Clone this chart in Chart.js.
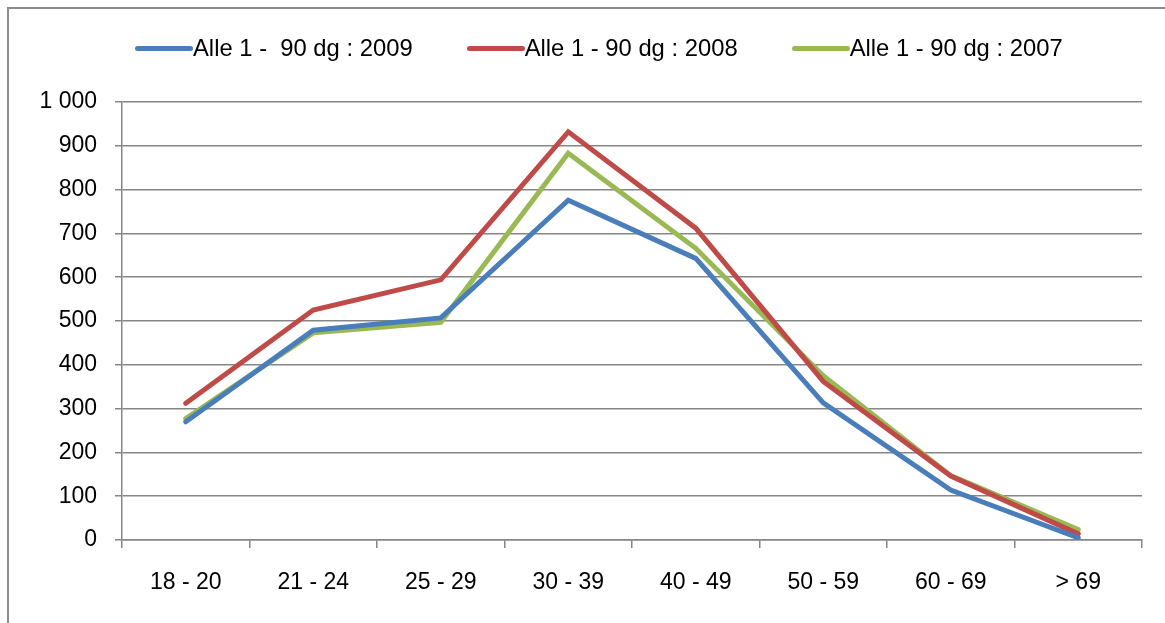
<!DOCTYPE html>
<html>
<head>
<meta charset="utf-8">
<script src="https://cdn.jsdelivr.net/npm/chart.js@4"></script>
<style>
  html, body { margin: 0; padding: 0; background: #fff; overflow: hidden; }
  .frame {
    position: absolute; left: 7px; top: 7px; width: 1200px; height: 700px;
    border-left: 2px solid #8c8c8c; border-top: 2px solid #8c8c8c;
  }
  .wrap { position: absolute; left: 0; top: 0; width: 1165px; height: 623px; }
  #legend {
    position: absolute; left: 135px; top: 33px; height: 30px;
    display: flex; align-items: center; gap: 54px;
    font-family: 'Liberation Sans', Arial, sans-serif; font-size: 23.8px; color: #000;
  }
  #legend .item { display: flex; align-items: center; white-space: pre; }
  #legend .swatch { width: 58px; height: 5px; border-radius: 3px; }
</style>
</head>
<body>
<div class="frame"></div>
<div class="wrap"><canvas id="myChart" width="1165" height="623"></canvas></div>
<div id="legend"></div>
<script>
const categories = ["18 - 20", "21 - 24", "25 - 29", "30 - 39", "40 - 49", "50 - 59", "60 - 69", "> 69"];
const values2009 = [270, 479, 507, 776, 643, 313, 114, 5];
const values2008 = [312, 525, 594, 932, 712, 362, 146, 14];
const values2007 = [277, 473, 497, 883, 666, 375, 147, 24];
const seriesNames = ["Alle 1 -  90 dg : 2009", "Alle 1 - 90 dg : 2008", "Alle 1 - 90 dg : 2007"];
const seriesColors = ["#4a7ebb", "#be4b48", "#98b954"];

const gridColor = "#868686";
const labelFont = { family: "'Liberation Sans', Arial, sans-serif", size: 23 };

const makeDataset = function (i, values) {
  return {
    label: seriesNames[i],
    data: values,
    borderColor: seriesColors[i],
    backgroundColor: seriesColors[i],
    borderWidth: 5,
    borderCapStyle: "round",
    borderJoinStyle: "miter",
    pointRadius: 0,
    tension: 0
  };
};

const data = {
  labels: categories,
  datasets: [
    makeDataset(0, values2009),
    makeDataset(1, values2008),
    makeDataset(2, values2007)
  ]
};

const config = {
  type: "line",
  data: data,
  options: {
    responsive: false,
    animation: false,
    layout: { padding: { left: 0, right: 23, top: 102, bottom: 0 } },
    plugins: {
      tooltip: { enabled: false },
      legend: { display: false }
    },
    scales: {
      x: {
        offset: true,
        grid: {
          offset: true,
          drawOnChartArea: false,
          tickLength: 8,
          color: gridColor,
          lineWidth: 1.5
        },
        border: { color: gridColor, width: 1.5 },
        ticks: { color: "#000", font: labelFont, padding: 21, maxRotation: 0 },
        afterFit: function (scale) { scale.height = 83; }
      },
      y: {
        min: 0,
        max: 1000,
        grid: { color: gridColor, lineWidth: 1.5, tickLength: 7 },
        border: { color: gridColor, width: 1.5 },
        ticks: {
          stepSize: 100,
          color: "#000",
          font: labelFont,
          padding: 18,
          callback: function (v) { return v >= 1000 ? "1 000" : String(v); }
        },
        afterFit: function (scale) { scale.width = 122; }
      }
    }
  }
};

const myChart = new Chart(document.getElementById("myChart"), config);

// legend built from the chart's own datasets
const legendBox = document.getElementById("legend");
myChart.data.datasets.forEach(function (ds) {
  const item = document.createElement("div");
  item.className = "item";
  const swatch = document.createElement("span");
  swatch.className = "swatch";
  swatch.style.background = ds.borderColor;
  const text = document.createElement("span");
  text.textContent = ds.label;
  item.appendChild(swatch);
  item.appendChild(text);
  legendBox.appendChild(item);
});
</script>
</body>
</html>
